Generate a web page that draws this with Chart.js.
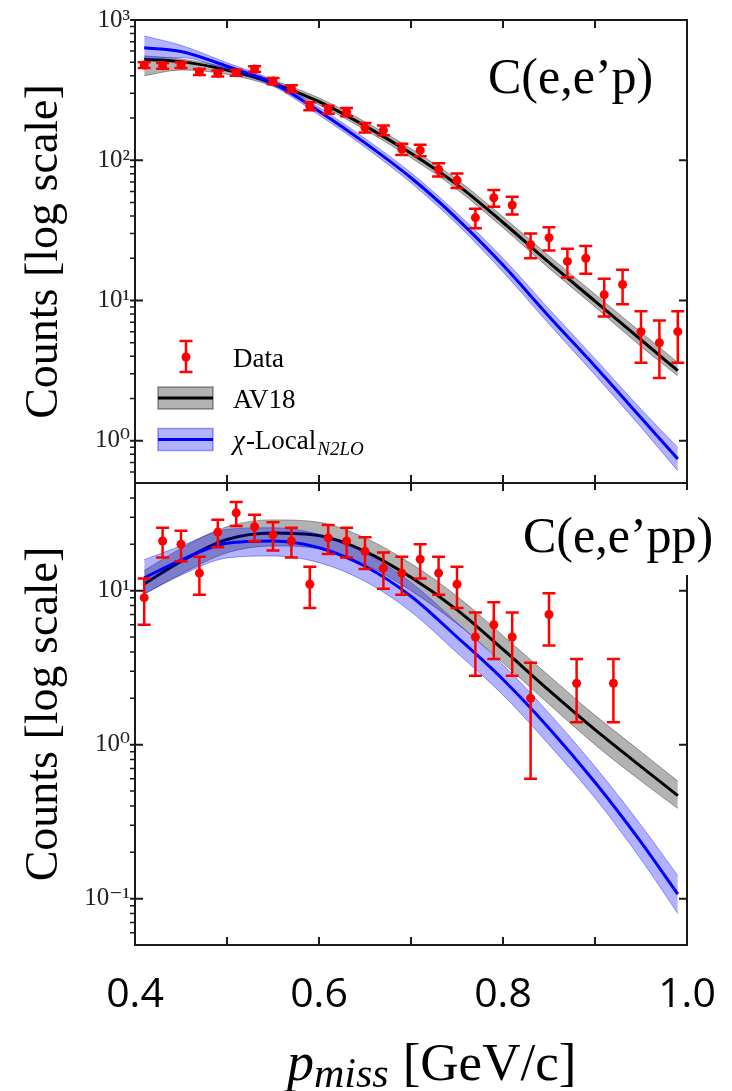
<!DOCTYPE html>
<html>
<head>
<meta charset="utf-8">
<script src="https://cdn.jsdelivr.net/npm/chart.js@4.4.1/dist/chart.umd.min.js"></script>
<style>
  html, body { margin: 0; padding: 0; background: #fff; }
  #wrap { position: relative; width: 732px; height: 1091px; overflow: hidden; }
  .panel { position: absolute; left: 0; }
</style>
</head>
<body>
<div id="wrap">
  <canvas id="topChart" class="panel" style="top:0" width="732" height="486"></canvas>
  <canvas id="bottomChart" class="panel" style="top:480px" width="732" height="611"></canvas>
</div>
<script>
// measured points, C(e,e'p)
const pmissEp = [0.41, 0.43, 0.45, 0.47, 0.49, 0.51, 0.53, 0.55, 0.57, 0.59, 0.61, 0.63, 0.65, 0.67, 0.69,
                 0.71, 0.73, 0.75, 0.77, 0.79, 0.81, 0.83, 0.85, 0.87, 0.89, 0.91, 0.93, 0.95, 0.97, 0.99];
const countsEp = [477, 472, 477, 427, 416, 421, 447, 367, 325, 243, 230, 221, 171, 164, 120,
                  118, 86, 72, 39, 54, 48, 25, 28, 19, 20, 11, 13, 6, 5, 6];
const errEp = [22, 22, 22, 21, 20, 21, 21, 19, 18, 16, 15, 15, 13, 13, 11,
               11, 9.3, 8.5, 6.2, 7.3, 6.9, 5, 5.3, 4.4, 4.5, 3.3, 3.6, 2.4, 2.2, 2.4];

// measured points, C(e,e'pp)
const pmissEpp = [0.41, 0.43, 0.45, 0.47, 0.49, 0.51, 0.53, 0.55, 0.57, 0.59, 0.61, 0.63, 0.65,
                  0.67, 0.69, 0.71, 0.73, 0.75, 0.77, 0.79, 0.81, 0.83, 0.85, 0.88, 0.92];
const countsEpp = [9, 21, 20, 13, 24, 32, 26, 23, 21, 11, 22, 21, 18,
                   14, 13, 16, 13, 11, 5, 6, 5, 2, 7, 2.5, 2.5];
const errEpp = [3, 4.6, 4.5, 3.6, 4.9, 5.7, 5.1, 4.8, 4.6, 3.3, 4.7, 4.6, 4.2,
                3.7, 3.6, 4, 3.6, 3.3, 2.2, 2.4, 2.2, 1.4, 2.6, 1.1, 1.1];

// calculations (line + band)
const pCurve = [0.41, 0.45, 0.50, 0.55, 0.60, 0.65, 0.70, 0.75, 0.80, 0.85, 0.90, 0.95, 0.99];

const av18Ep   = [524, 505, 440, 355, 262, 176, 112, 67, 36, 18.7, 9.9, 5.25, 3.16];
const av18EpHi = [555, 528, 458, 372, 278, 188, 121, 73, 39.5, 20.8, 11.1, 5.95, 3.62];
const av18EpLo = [400, 440, 410, 338, 248, 165, 104, 62, 33, 17, 9.0, 4.7, 2.9];
const chiEp    = [634, 596, 468, 355, 224, 133, 75, 38.4, 17.9, 7.7, 3.4, 1.46, 0.74];
const chiEpHi  = [770, 660, 495, 372, 238, 143, 81.5, 42, 20, 8.7, 3.85, 1.68, 0.895];
const chiEpLo  = [520, 540, 440, 338, 210, 124, 69, 35, 16, 6.8, 2.95, 1.25, 0.61];

const av18Epp   = [11.05, 15.5, 21.5, 23.7, 22.8, 18, 12.2, 7.5, 4.15, 2.25, 1.25, 0.72, 0.467];
const av18EppHi = [13.5, 18.8, 26, 28.8, 27.8, 22, 15, 9.2, 5.1, 2.8, 1.55, 0.9, 0.58];
const av18EppLo = [9.5, 12.8, 17.6, 19.5, 18.7, 14.8, 10, 6.1, 3.4, 1.83, 1.0, 0.58, 0.385];
const chiEpp    = [12.1, 15.8, 20.3, 21, 19, 14.4, 9.2, 5.0, 2.65, 1.28, 0.57, 0.233, 0.107];
const chiEppHi  = [15.9, 19.5, 25, 25.6, 23.2, 17.6, 11.3, 6.2, 3.3, 1.6, 0.72, 0.3, 0.141];
const chiEppLo  = [9.5, 12.6, 16.3, 16.8, 15.2, 11.5, 7.3, 3.95, 2.1, 1.0, 0.45, 0.18, 0.08];

// axes
const xTickVals = [0.4, 0.5, 0.6, 0.7, 0.8, 0.9, 1.0];
const xLabelVals = [0.4, 0.6, 0.8, 1.0];
const xLabelText = ['0.4', '0.6', '0.8', '1.0'];
const yTickTop = [1, 10, 100, 1000];
const yTextTop = ['10\u2070', '10\u00b9', '10\u00b2', '10\u00b3'];
const yTickBottom = [0.1, 1, 10];
const yTextBottom = ['10\u207b\u00b9', '10\u2070', '10\u00b9'];

const RED = '#ff0000';
const AXIS = '#1a1a1a';
const SERIF = "'Liberation Serif', 'DejaVu Serif', serif";

Chart.defaults.font.family = SERIF;

function pts(xs, ys) {
  return xs.map((v, i) => ({ x: v, y: ys[i] }));
}

function curveSet(ys, color, width, order, fill, bg) {
  return {
    type: 'line',
    data: pts(pCurve, ys),
    borderColor: color,
    borderWidth: width,
    backgroundColor: bg || 'transparent',
    pointRadius: 0,
    cubicInterpolationMode: 'monotone',
    fill: fill === undefined ? false : fill,
    order: order
  };
}

function buildDatasets(xs, ys, av, avHi, avLo, chi, chiHi, chiLo) {
  return [
    { type: 'scatter', label: 'Data', data: pts(xs, ys), pointRadius: 4.5,
      pointBackgroundColor: RED, pointBorderWidth: 0, showLine: false, order: 1 },
    curveSet(chiHi, 'rgba(40,40,255,0.45)', 1, 3, 2, 'rgba(0,0,255,0.3)'),
    curveSet(chiLo, 'rgba(40,40,255,0.45)', 1, 3),
    curveSet(chi, '#0000ff', 3, 2),
    curveSet(avHi, 'rgba(0,0,0,0.35)', 1, 5, 5, 'rgba(0,0,0,0.3)'),
    curveSet(avLo, 'rgba(0,0,0,0.35)', 1, 5),
    curveSet(av, '#000000', 3, 4)
  ];
}

// red error bars with caps
const errorBars = {
  id: 'errorBars',
  afterDatasetsDraw(chart, args, opts) {
    const { ctx, scales: { x, y } } = chart;
    ctx.save();
    ctx.strokeStyle = RED;
    ctx.lineWidth = 2.5;
    ctx.beginPath();
    opts.xs.forEach((xv, i) => {
      const px = x.getPixelForValue(xv);
      const top = y.getPixelForValue(opts.ys[i] + opts.err[i]);
      const bot = y.getPixelForValue(opts.ys[i] - opts.err[i]);
      ctx.moveTo(px, top); ctx.lineTo(px, bot);
      ctx.moveTo(px - 6.5, top); ctx.lineTo(px + 6.5, top);
      ctx.moveTo(px - 6.5, bot); ctx.lineTo(px + 6.5, bot);
    });
    ctx.stroke();
    ctx.restore();
  }
};

// box, inward ticks, panel label, legend
const frame = {
  id: 'frame',
  afterDraw(chart, args, opts) {
    const { ctx, chartArea: a, scales: { x, y } } = chart;
    ctx.save();
    ctx.strokeStyle = AXIS;
    ctx.lineWidth = 2;
    ctx.beginPath();
    xTickVals.forEach(v => {
      const px = x.getPixelForValue(v);
      ctx.moveTo(px, a.top); ctx.lineTo(px, a.top + 8);
      ctx.moveTo(px, a.bottom); ctx.lineTo(px, a.bottom - 8);
    });
    opts.major.forEach(v => {
      const py = y.getPixelForValue(v);
      ctx.moveTo(a.left - 5, py); ctx.lineTo(a.left + 8, py);
      ctx.moveTo(a.right, py); ctx.lineTo(a.right - 8, py);
    });
    ctx.stroke();

    ctx.lineWidth = 1.5;
    ctx.beginPath();
    for (let e = -2; e <= 3; e++) {
      for (let m = 2; m <= 9; m++) {
        const v = m * Math.pow(10, e);
        if (v <= y.min * 1.001 || v >= y.max * 0.999) continue;
        const py = y.getPixelForValue(v);
        ctx.moveTo(a.left - 5, py); ctx.lineTo(a.left, py);
      }
    }
    ctx.stroke();

    ctx.lineWidth = 2;
    ctx.strokeRect(a.left, a.top, a.right - a.left, a.bottom - a.top);

    const lab = opts.label;
    if (lab.box) {
      ctx.fillStyle = '#fff';
      ctx.fillRect(lab.box[0], lab.box[1], lab.box[2], lab.box[3]);
    }
    ctx.fillStyle = '#000';
    ctx.font = '50px ' + SERIF;
    ctx.textBaseline = 'alphabetic';
    ctx.textAlign = 'left';
    ctx.fillText(lab.text, lab.x, lab.y);

    if (opts.legend) drawLegend(ctx);
    if (opts.xTitle) drawXTitle(ctx, opts.xTitle);
    ctx.restore();
  }
};

function drawLegend(ctx) {
  // Data
  ctx.strokeStyle = RED;
  ctx.lineWidth = 2.5;
  ctx.beginPath();
  ctx.moveTo(186, 341); ctx.lineTo(186, 372);
  ctx.moveTo(179.5, 341); ctx.lineTo(192.5, 341);
  ctx.moveTo(179.5, 372); ctx.lineTo(192.5, 372);
  ctx.stroke();
  ctx.fillStyle = RED;
  ctx.beginPath();
  ctx.arc(186, 357, 4.5, 0, Math.PI * 2);
  ctx.fill();

  // AV18
  ctx.fillStyle = 'rgba(0,0,0,0.3)';
  ctx.strokeStyle = 'rgba(0,0,0,0.4)';
  ctx.lineWidth = 1.5;
  ctx.fillRect(158, 387, 55, 22);
  ctx.strokeRect(158, 387, 55, 22);
  ctx.strokeStyle = '#000';
  ctx.lineWidth = 3;
  ctx.beginPath(); ctx.moveTo(158, 398); ctx.lineTo(213, 398); ctx.stroke();

  // chi-Local
  ctx.fillStyle = 'rgba(0,0,255,0.3)';
  ctx.strokeStyle = 'rgba(40,40,255,0.45)';
  ctx.lineWidth = 1.5;
  ctx.fillRect(158, 428.5, 55, 22);
  ctx.strokeRect(158, 428.5, 55, 22);
  ctx.strokeStyle = '#0000ff';
  ctx.lineWidth = 3;
  ctx.beginPath(); ctx.moveTo(158, 439.5); ctx.lineTo(213, 439.5); ctx.stroke();

  ctx.fillStyle = '#000';
  ctx.textAlign = 'left';
  ctx.font = '27px ' + SERIF;
  ctx.fillText('Data', 233, 367);
  ctx.fillText('AV18', 233, 408);
  let px = 233;
  ctx.font = 'italic 27px ' + SERIF;
  ctx.fillText('\u03c7', px, 449);
  px += ctx.measureText('\u03c7').width + 1;
  ctx.font = '27px ' + SERIF;
  ctx.fillText('-Local', px, 449);
  px += ctx.measureText('-Local').width + 1;
  ctx.font = 'italic 19px ' + SERIF;
  ctx.fillText('N2LO', px, 455);
}

function drawXTitle(ctx, t) {
  ctx.fillStyle = '#000';
  ctx.textAlign = 'left';
  let px = t.x;
  ctx.font = 'italic 54px ' + SERIF;
  ctx.fillText('p', px, t.y);
  px += ctx.measureText('p').width;
  ctx.font = 'italic 42px ' + SERIF;
  ctx.fillText('miss', px, t.y + 7);
  px += ctx.measureText('miss').width + 14;
  ctx.font = '53px ' + SERIF;
  ctx.fillText('[GeV/c]', px, t.y);
}

function yAxis(min, max, ticks, texts, title) {
  return {
    type: 'logarithmic',
    min: min,
    max: max,
    grid: { display: false, drawTicks: false },
    border: { display: false },
    afterFit(scale) {
      scale.width = 135;
      scale.paddingTop = 0;
      scale.paddingBottom = 0;
    },
    afterBuildTicks(scale) { scale.ticks = ticks.map(v => ({ value: v, major: true })); },
    ticks: {
      autoSkip: false,
      padding: 5,
      color: '#222',
      font: { family: SERIF, size: 25 },
      callback: (v) => texts[ticks.indexOf(v)] || ''
    },
    title: {
      display: true,
      text: title,
      color: '#000',
      font: { family: SERIF, size: 46 },
      padding: { top: 17, bottom: 0 }
    }
  };
}

function baseOptions() {
  return {
    responsive: false,
    animation: false,
    events: [],
    plugins: { legend: { display: false }, tooltip: { enabled: false } }
  };
}

// top panel: C(e,e'p)
const topOpts = baseOptions();
topOpts.layout = { autoPadding: false, padding: { top: 20, right: 45, bottom: 3, left: 0 } };
topOpts.scales = {
  x: { type: 'linear', min: 0.4, max: 1.0, display: false },
  y: yAxis(0.5, 1000, yTickTop, yTextTop, 'Counts [log scale]')
};
topOpts.plugins.errorBars = { xs: pmissEp, ys: countsEp, err: errEp };
topOpts.plugins.frame = {
  major: yTickTop,
  label: { text: 'C(e,e\u2019p)', x: 488, y: 93 },
  legend: true
};

new Chart(document.getElementById('topChart'), {
  type: 'line',
  data: { datasets: buildDatasets(pmissEp, countsEp, av18Ep, av18EpHi, av18EpLo, chiEp, chiEpHi, chiEpLo) },
  options: topOpts,
  plugins: [errorBars, frame]
});

// bottom panel: C(e,e'pp)
const botOpts = baseOptions();
botOpts.layout = { autoPadding: false, padding: { top: 3, right: 45, bottom: 0, left: 0 } };
botOpts.scales = {
  x: {
    type: 'linear', min: 0.4, max: 1.0,
    grid: { display: false, drawTicks: false },
    border: { display: false },
    afterFit(scale) {
      scale.height = 146;
      scale.paddingLeft = 0;
      scale.paddingRight = 0;
    },
    afterBuildTicks(scale) { scale.ticks = xLabelVals.map(v => ({ value: v })); },
    ticks: {
      autoSkip: false,
      maxRotation: 0,
      padding: 26,
      color: '#000',
      font: { family: "'Open Sans', 'Noto Sans', sans-serif", size: 41 },
      callback: (v) => xLabelText[xLabelVals.indexOf(v)] || ''
    }
  },
  y: yAxis(0.05, 50, yTickBottom, yTextBottom, 'Counts [log scale]')
};
botOpts.plugins.errorBars = { xs: pmissEpp, ys: countsEpp, err: errEpp };
botOpts.plugins.frame = {
  major: yTickBottom,
  label: { text: 'C(e,e\u2019pp)', x: 523, y: 72, box: [516, 10, 204, 85] },
  xTitle: { x: 287, y: 600 }
};

new Chart(document.getElementById('bottomChart'), {
  type: 'line',
  data: { datasets: buildDatasets(pmissEpp, countsEpp, av18Epp, av18EppHi, av18EppLo, chiEpp, chiEppHi, chiEppLo) },
  options: botOpts,
  plugins: [errorBars, frame]
});
</script>
</body>
</html>
